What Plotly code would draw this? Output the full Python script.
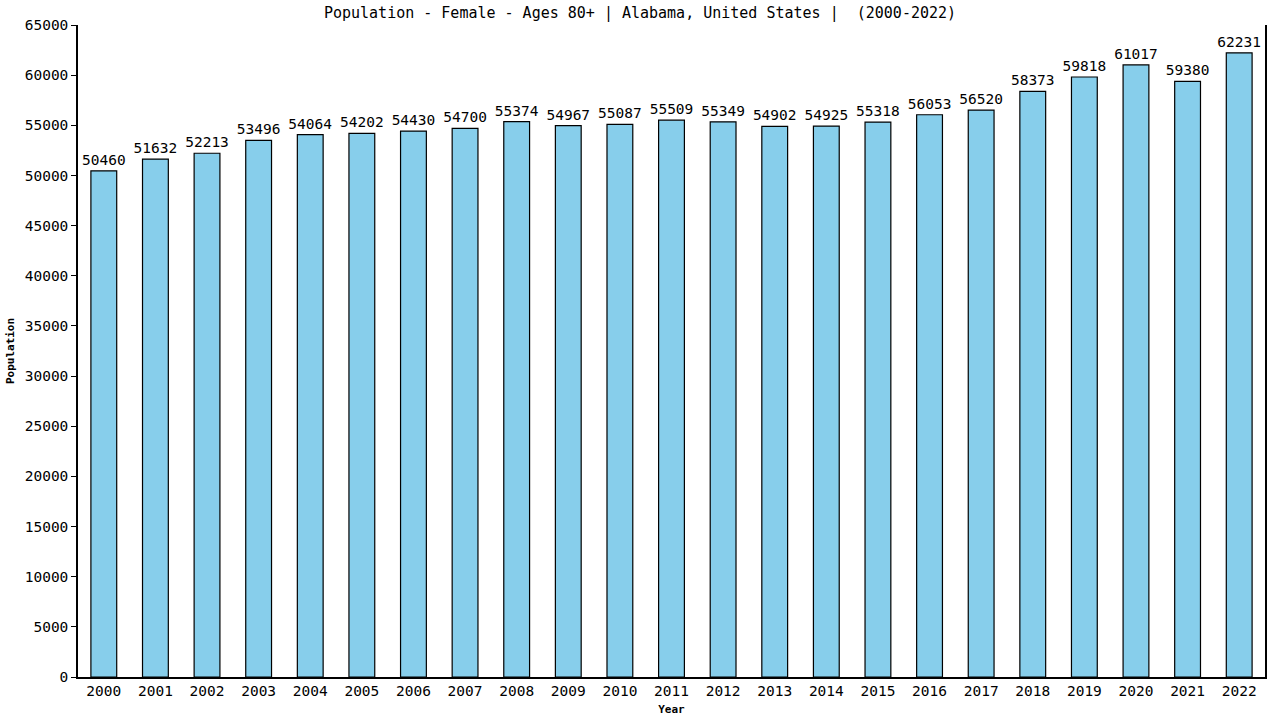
import plotly.graph_objects as go

years = [str(y) for y in range(2000, 2023)]
population = [50460, 51632, 52213, 53496, 54064, 54202, 54430, 54700, 55374, 54967,
              55087, 55509, 55349, 54902, 54925, 55318, 56053, 56520, 58373, 59818,
              61017, 59380, 62231]
y_ticks = list(range(0, 65001, 5000))

mono = "DejaVu Sans Mono"

fig = go.Figure(go.Bar(
    x=years,
    y=population,
    width=0.5,
    marker=dict(color="#87CEEB", line=dict(color="black", width=1.2)),
    text=[str(v) for v in population],
    textposition="outside",
    constraintext="none",
    cliponaxis=False,
    textfont=dict(family=mono, size=14.5, color="black"),
))

fig.update_layout(
    width=1280, height=720,
    margin=dict(l=78, r=15, t=25, b=43),
    plot_bgcolor="white", paper_bgcolor="white",
    title=dict(text="Population - Female - Ages 80+ | Alabama, United States |  (2000-2022)",
               x=0.5, xanchor="center", y=0.982, yanchor="middle",
               font=dict(family=mono, size=15, color="black")),
    showlegend=False,
    bargap=0.5,
)
fig.update_xaxes(
    automargin=False,
    showline=True, linecolor="black", linewidth=1.5, showgrid=False,
    ticks="", tickfont=dict(family=mono, size=14.5, color="black"),
    title=dict(text="<b>Year</b>", font=dict(family=mono, size=11, color="black"), standoff=7),
)
fig.update_yaxes(
    automargin=False,
    range=[0, 65000], tickvals=y_ticks, ticktext=[str(v) for v in y_ticks],
    showline=True, linecolor="black", linewidth=1.5, mirror=True, showgrid=False,
    ticks="outside", ticklen=5, tickcolor="black",
    tickfont=dict(family=mono, size=14.5, color="black"),
    title=dict(text="<b>Population</b>", font=dict(family=mono, size=11, color="black"), standoff=8),
    zeroline=False,
)

# drop the browser's default body margin so the figure sits at the page corner
fig.write_html("out.html", config={"displayModeBar": False},
               post_script="document.body.style.margin='0';")
